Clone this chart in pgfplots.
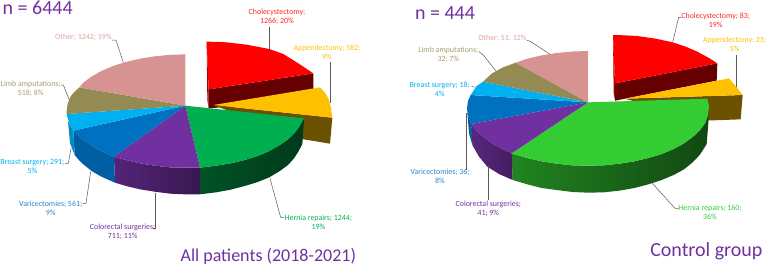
\documentclass[border=0pt]{standalone}
\usepackage{fontspec}
\setmainfont{Carlito}
\usepackage{pgfplots}
\pgfplotsset{compat=1.18}
\definecolor{cred}{HTML}{FF0000}
\definecolor{cora}{HTML}{FFC000}
\definecolor{cgrn}{HTML}{00B050}
\definecolor{cpur}{HTML}{7030A0}
\definecolor{cblu}{HTML}{0070C0}
\definecolor{ccya}{HTML}{00B0F0}
\definecolor{coli}{HTML}{948A54}
\definecolor{cpnk}{HTML}{D79391}
\definecolor{cgr2}{HTML}{33CC33}
\definecolor{leader}{HTML}{595959}
\pgfplotsset{pieaxis/.style={scale only axis,hide axis,y dir=reverse,ymin=0,ymax=798,xmin=0,
  axis line style={draw=none},clip=false,anchor=north west,height=266pt},
  w/.style={draw=none,fill=#1,no markers,forget plot},
  ld/.style={draw=leader,line width=0.5pt,no markers,forget plot}}
\tikzset{lab/.style={font=\fontsize{7.9}{9}\selectfont,align=center,inner sep=0pt,text=#1},
  ttl/.style={font=\fontsize{#1}{22}\selectfont,inner sep=0pt,text=cpur}}
\begin{document}
\begin{tikzpicture}
\useasboundingbox (0pt,0pt) rectangle (767pt,-266pt);
\begin{axis}[pieaxis,width=384pt,xmax=1152,at={(0pt,0pt)}]
% red
\addplot[w={cred!65!black}] coordinates {(620,125)(626,268)(626,325)(622,300)} --cycle;
\addplot[w={cred!40!black}] coordinates {(626,268)(940,220)(940,297)(626,325)} --cycle;
\addplot[w=cred] coordinates {(620,125)(650,125.5)(680,127)(740,134)(808,147)(850,162)(895,190)(940,220)(626,268)} --cycle;
% orange
\addplot[w={cora!42!black}] coordinates {(640,315)(997,353)(990,431)(905,417)} --cycle;
\addplot[w=cora] coordinates {(640,315)(960,262)(975,278)(985,295)(992,320)(997,353)} --cycle;
% sides
\addplot[draw=none,left color=cgrn!47!black,right color=cgrn!33!black,no markers,forget plot] coordinates {(600,503)(648,497)(692,490)(734,480)(773,468)(808,453)(838,436)(864,418)(885,398)(900,377)(912,355)(907,432)(895,455)(882,475)(864,495)(838,514)(808,532)(773,546)(734,558)(692,569)(648,577)(600,583)} --cycle;
\addplot[draw=none,left color=cpur!75!black,right color=cpur!50!black,no markers,forget plot] coordinates {(342,470)(378,480)(420,490)(464,497)(510,502)(556,503)(600,503)(600,583)(556,583)(510,581)(464,575)(420,568)(378,558)(345,548)} --cycle;
\addplot[w={cblu!85!black}] coordinates {(220,392)(232,404)(248,418)(274,436)(304,453)(342,470)(345,548)(304,530)(275,513)(250,493)(235,478)(224,465)} --cycle;
\addplot[w={ccya!80!black}] coordinates {(204,362)(212,378)(220,392)(224,465)(210,430)} --cycle;
% top
\addplot[w=cgrn] coordinates {(556,317)(600,503)(648,497)(692,490)(734,480)(773,468)(808,453)(838,436)(864,418)(885,398)(900,377)(912,355)} --cycle;
\addplot[w=cpur] coordinates {(556,317)(342,470)(378,480)(420,490)(464,497)(510,502)(556,503)(600,503)} --cycle;
\addplot[w=cblu] coordinates {(556,317)(220,392)(232,404)(248,418)(274,436)(304,453)(342,470)} --cycle;
\addplot[w=ccya] coordinates {(556,317)(200,342)(203,355)(212,378)(220,392)} --cycle;
\addplot[w=coli] coordinates {(556,317)(238,262)(224,275)(212,289)(203,311)(200,333)(200,342)} --cycle;
\addplot[w=cpnk] coordinates {(556,317)(556,163)(509.5,164.5)(464,169)(420,176)(378,186)(339,198)(304,213)(274,230)(250,248)(238,262)} --cycle;
% leaders
\addplot[ld] coordinates {(808,80)(808,147)};
\addplot[ld] coordinates {(992,185)(992,308)};
\addplot[ld] coordinates {(810,535)(842,652)(852,652)};
\addplot[ld] coordinates {(466,578)(466,685)(458,685)};
\addplot[ld] coordinates {(272,515)(258,610)(248,610)};
\addplot[ld] coordinates {(213,445)(205,490)(195,490)};
\addplot[ld] coordinates {(208,300)(190,255)(183,255)};
\addplot[ld] coordinates {(370,188)(348,120)(335,120)};
% text
\node[lab={cred!85!white}] at (axis cs:831,50) {Cholecystectomy;\\1266; 20\%};
\node[lab={cora}] at (axis cs:981,158) {Appendectomy; 582;\\9\%};
\node[lab={cgrn}] at (axis cs:955,667) {Hernia repairs; 1244;\\19\%};
\node[lab={cpur}] at (axis cs:368,696) {Colorectal surgeries;\\711; 11\%};
\node[lab={cblu!85!white}] at (axis cs:152,625) {Varicectomies; 561;\\9\%};
\node[lab={ccya}] at (axis cs:97,500) {Breast surgery; 291;\\5\%};
\node[lab={coli!85!white}] at (axis cs:92,265) {Limb amputations;\\518; 8\%};
\node[lab={cpnk!85!white}] at (axis cs:250,112) {Other; 1242; 19\%};
\node[ttl=20] at (axis cs:113,22) {n = 6444};
\node[ttl=18] at (axis cs:805,770) {All patients (2018-2021)};
\end{axis}
\begin{axis}[pieaxis,width=383pt,xmax=1149,at={(384pt,0pt)}]
% red
\addplot[w={cred!65!black}] coordinates {(687,105)(693,250)(693,302)(689,280)} --cycle;
\addplot[w={cred!40!black}] coordinates {(693,250)(1000,190)(998,242)(693,302)} --cycle;
\addplot[w=cred] coordinates {(687,105)(725,106)(760,108)(815,116)(866,127)(905,140)(940,155)(975,174)(1000,190)(693,250)} --cycle;
% orange
\addplot[w={cora!42!black}] coordinates {(722,296)(1076,285)(1070,358)(960,362)} --cycle;
\addplot[w=cora] coordinates {(722,296)(1035,235)(1058,262)(1076,285)} --cycle;
% sides
\addplot[draw=none,left color=cgr2!65!black,right color=cgr2!35!black,no markers,forget plot] coordinates {(383,460)(430,474)(473,484)(518,491)(565,496)(612,497)(659,496)(706,491)(751,484)(793,474)(833,462)(869,447)(900,430)(926,411)(947,391)(963,370)(972,347)(975,318)(973,370)(968,432)(960,445)(947,465)(926,487)(900,508)(869,525)(833,540)(793,553)(751,564)(706,572)(659,577)(612,578)(565,576)(518,570)(473,564)(430,553)(386,540)} --cycle;
\addplot[draw=none,left color=cpur!80!black,right color=cpur!60!black,no markers,forget plot] coordinates {(262,372)(277,391)(298,411)(324,430)(355,447)(383,460)(386,540)(345,522)(310,500)(285,470)(265,435)} --cycle;
\addplot[w={cblu!85!black}] coordinates {(249,325)(252,347)(262,372)(265,435)(255,400)} --cycle;
% top
\addplot[w=cgr2] coordinates {(612,307)(383,460)(430,474)(473,484)(518,491)(565,496)(612,497)(659,496)(706,491)(751,484)(793,474)(833,462)(869,447)(900,430)(926,411)(947,391)(963,370)(972,347)(975,318)(970,296)} --cycle;
\addplot[w=cpur] coordinates {(612,307)(262,372)(277,391)(298,411)(324,430)(355,447)(383,460)} --cycle;
\addplot[w=cblu] coordinates {(612,307)(260,285)(252,303)(249,325)(252,347)(262,372)} --cycle;
\addplot[w=ccya] coordinates {(612,307)(297,245)(277,259)(260,285)} --cycle;
\addplot[w=coli] coordinates {(612,307)(395,188)(355,203)(324,220)(297,245)} --cycle;
\addplot[w=cpnk] coordinates {(612,307)(612,153)(565,154.5)(518,159)(473,166)(430,176)(395,188)} --cycle;
% leaders
\addplot[ld] coordinates {(866,127)(884,52)(892,52)};
\addplot[ld] coordinates {(1058,165)(1058,262)};
\addplot[ld] coordinates {(805,550)(873,625)(884,625)};
\addplot[ld] coordinates {(312,497)(312,600)};
\addplot[ld] coordinates {(248,340)(248,510)};
\addplot[ld] coordinates {(272,262)(262,258)};
\addplot[ld] coordinates {(335,212)(298,165)(285,155)};
\addplot[ld] coordinates {(497,162)(440,125)(428,120)};
% text
\node[lab={cred!85!white}] at (axis cs:995,60) {Cholecystectomy; 83;\\19\%};
\node[lab={cora}] at (axis cs:1052,133) {Appendectomy; 23;\\5\%};
\node[lab={cgr2}] at (axis cs:978,638) {Hernia repairs; 160;\\36\%};
\node[lab={cpur}] at (axis cs:313,626) {Colorectal surgeries;\\41; 9\%};
\node[lab={cblu!85!white}] at (axis cs:168,530) {Varicectomies; 36;\\8\%};
\node[lab={ccya}] at (axis cs:167,267) {Breast surgery; 18;\\4\%};
\node[lab={coli!85!white}] at (axis cs:193,165) {Limb amputations;\\32; 7\%};
\node[lab={cpnk!85!white}] at (axis cs:355,115) {Other; 51; 12\%};
\node[ttl=20] at (axis cs:183,38) {n = 444};
\node[ttl=20] at (axis cs:967,755) {Control group};
\end{axis}
\end{tikzpicture}
\end{document}
